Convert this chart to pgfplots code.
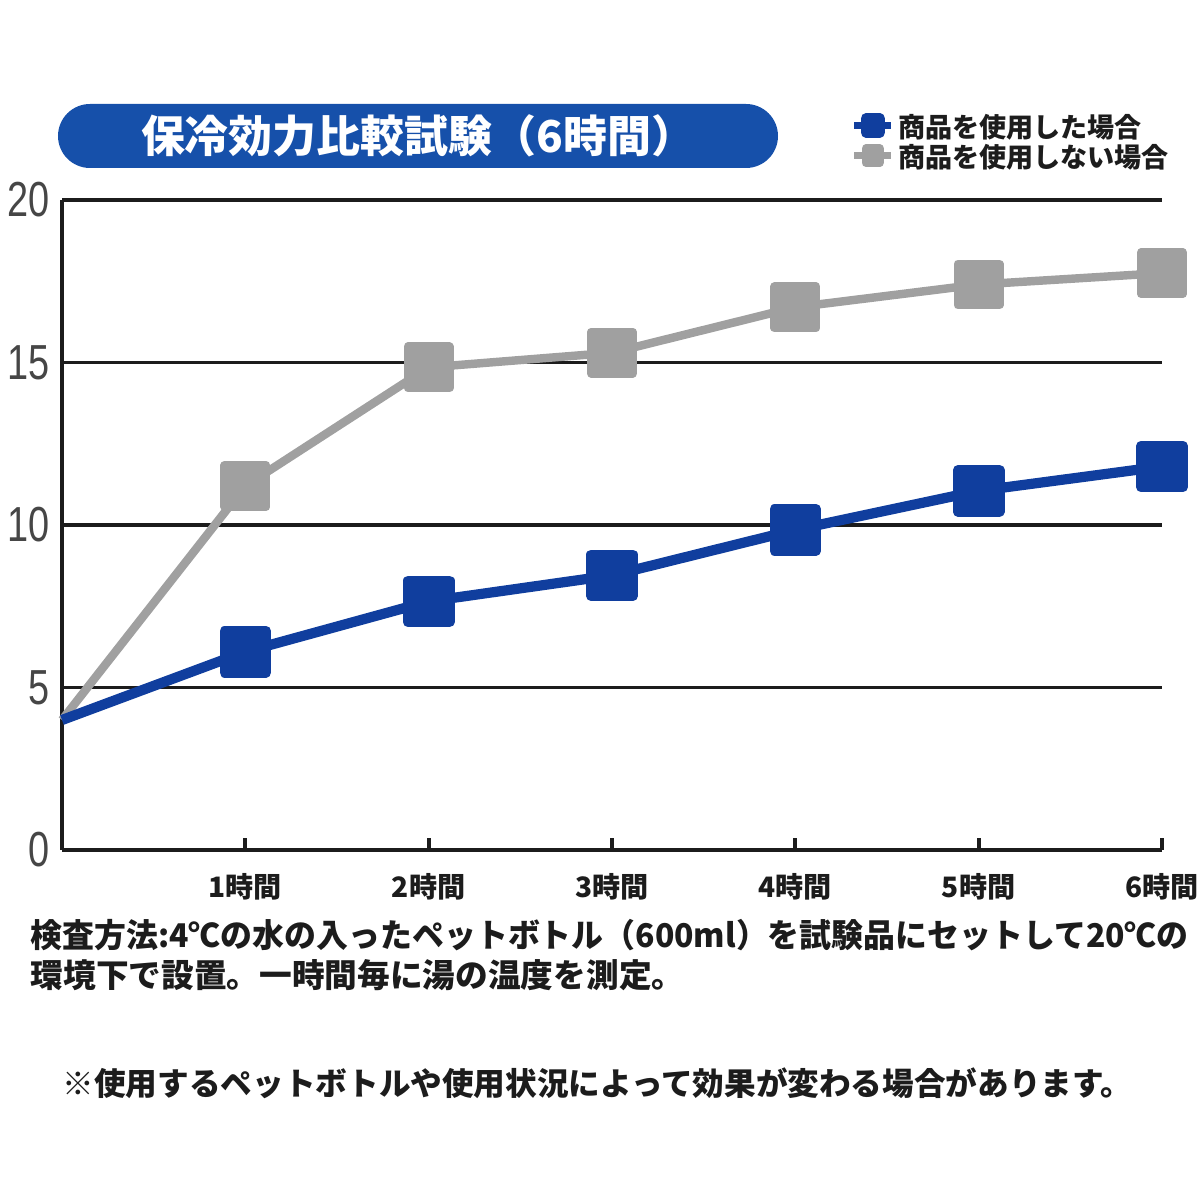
\documentclass[border=0pt]{standalone}
\usepackage{fontspec}
\usepackage{graphicx}
\usepackage{pgfplots}
\pgfplotsset{compat=1.18}
\setmainfont{Noto Sans CJK JP}
\newfontfamily\numfont[FakeStretch=0.77]{Liberation Sans}
\definecolor{lineblue}{RGB}{16,62,158}
\definecolor{bannerblue}{RGB}{22,80,170}
\definecolor{sgray}{RGB}{160,160,160}
\definecolor{txt}{RGB}{28,28,28}
\definecolor{numgray}{RGB}{70,70,70}
\begin{document}
\begin{tikzpicture}[x=1cm,y=1cm]
\path[use as bounding box] (-0.62,-3.45) rectangle (11.38,8.50);
\begin{axis}[
  at={(0,0)}, anchor=south west,
  x=1.83333cm, y=0.325cm,
  xmin=0, xmax=6, ymin=0, ymax=20,
  clip=false,
  axis x line=bottom, axis y line=left,
  axis line style={-, line width=1.2pt, color=txt},
  xtick={1,2,3,4,5,6},
  xticklabels={1時間,2時間,3時間,4時間,5時間,6時間},
  ytick={0,5,10,15,20},
  ymajorgrids, grid style={line width=1pt, color=txt},
  major tick length=0.12cm,
  tick align=inside,
  xtick style={line width=1.1pt, color=txt},
  ytick style={draw=none},
  /pgf/number format/assume math mode=true,
  xticklabel style={font=\bfseries\fontsize{8}{9}\selectfont, text=txt, yshift=-0.11cm},
  yticklabel style={font=\numfont\fontsize{14}{14}\selectfont, text=numgray},
  legend style={at={(0.7164,1.139)}, anchor=north west, draw=none, fill=none,
    inner sep=0pt, row sep=0pt, font=\bfseries\fontsize{7.7}{8}\selectfont,
    text=txt, cells={anchor=west}, nodes={inner sep=1pt, text depth=0pt}},
  legend image code/.code={\draw[line width=2pt] (0cm,0cm) -- (0.37cm,0cm);
    \fill (0.185cm,0cm) ++(-0.07cm,-0.07cm) rectangle ++(0.14cm,0.14cm);},
  reverse legend,
]
\addplot[color=sgray, line width=2.4pt, line join=round, mark=square*, mark size=5.9pt, mark indices={2,3,4,5,6,7}]
  coordinates {(0,4) (1,11.2) (2,14.85) (3,15.3) (4,16.7) (5,17.4) (6,17.75)};
\addlegendentry{商品を使用しない場合}
\addplot[color=lineblue, line width=2.9pt, line join=round, mark=square*, mark size=5.9pt, mark indices={2,3,4,5,6,7}]
  coordinates {(0,4) (1,6.1) (2,7.65) (3,8.45) (4,9.85) (5,11.05) (6,11.8)};
\addlegendentry{商品を使用した場合}
\end{axis}
\node[fill=bannerblue, rounded corners=0.32cm, minimum width=7.2cm, minimum height=0.64cm,
  text=white, font=\bfseries\fontsize{12.5}{13}\selectfont, inner sep=0pt] at (3.56,7.14) {保冷効力比較試験（6時間）};
\node[anchor=west, inner sep=0pt, text=txt, font=\bfseries\fontsize{9.3}{10}\selectfont] at (-0.32,-0.85)
  {\resizebox{11.58cm}{\height}{検査方法:4℃の水の入ったペットボトル（600ml）を試験品にセットして20℃の}};
\node[anchor=west, inner sep=0pt, text=txt, font=\bfseries\fontsize{9.3}{10}\selectfont] at (-0.32,-1.25)
  {環境下で設置。一時間毎に湯の温度を測定。};
\node[anchor=west, inner sep=0pt, text=txt, font=\bfseries\fontsize{9}{10}\selectfont] at (0.0,-2.33)
  {※使用するペットボトルや使用状況によって効果が変わる場合があります。};
\end{tikzpicture}
\end{document}
